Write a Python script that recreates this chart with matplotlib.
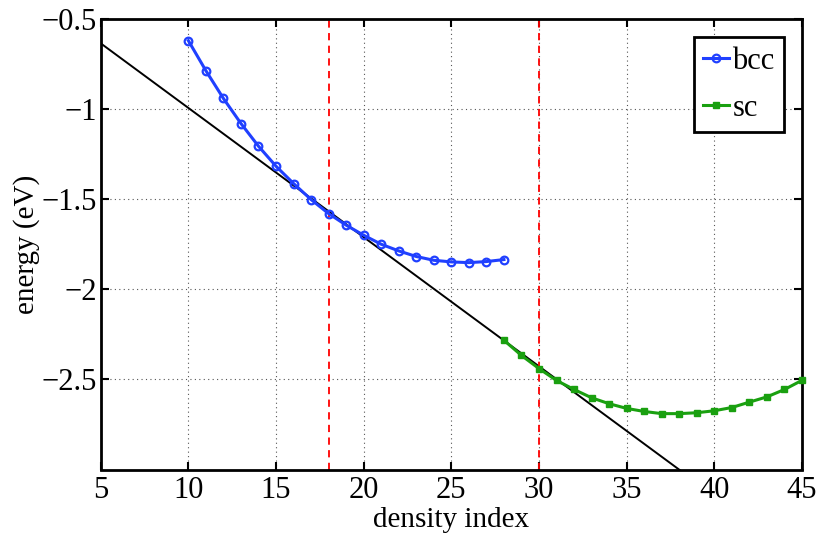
import matplotlib
matplotlib.use("Agg")
import matplotlib.pyplot as plt

plt.rcParams['font.family'] = ['Liberation Serif', 'DejaVu Serif']

bcc_x = [10, 11, 12, 13, 14, 15, 16, 17, 18, 19, 20, 21, 22, 23, 24, 25, 26, 27, 28]
bcc_y = [-0.62, -0.787, -0.941, -1.080, -1.206, -1.317, -1.413, -1.502, -1.58,
         -1.644, -1.70, -1.75, -1.787, -1.818, -1.839, -1.848, -1.852, -1.846, -1.835]
sc_x = [28, 29, 30, 31, 32, 33, 34, 35, 36, 37, 38, 39, 40, 41, 42, 43, 44, 45]
sc_y = [-2.283, -2.367, -2.44, -2.506, -2.556, -2.602, -2.635, -2.661, -2.678,
        -2.69, -2.69, -2.685, -2.674, -2.656, -2.626, -2.597, -2.556, -2.505]
tangent_x = [5, 45]
tangent_y = [-0.635, -3.503]
vlines_x = [18, 30]
xticks = [5, 10, 15, 20, 25, 30, 35, 40, 45]
yticks = [-2.5, -2, -1.5, -1, -0.5]
ytick_labels = ['\u22122.5', '\u22122', '\u22121.5', '\u22121', '\u22120.5']

fig = plt.figure(figsize=(8.30, 5.59), dpi=100)
ax = fig.add_axes([100.7/830, 1 - 469.5/559, (802 - 100.7)/830, (469.5 - 19)/559])

ax.plot(tangent_x, tangent_y, color='black', lw=1.4, zorder=2)
for xv in vlines_x:
    ax.axvline(xv, color='#ff0000', lw=1.3, ls=(0, (4, 3)), zorder=2)
ax.plot(bcc_x, bcc_y, color='#2040ff', lw=2.2, marker='o', ms=5.5,
        mfc='none', mec='#2040ff', mew=1.6, label='bcc', zorder=3)
ax.plot(sc_x, sc_y, color='#1aa010', lw=2.2, marker='s', ms=5,
        mfc='#1aa010', mec='#1aa010', label='sc', zorder=3, clip_on=False)

ax.set_xlim(5, 45)
ax.set_ylim(-3, -0.5)
ax.set_xticks(xticks)
ax.set_yticks(yticks)
ax.set_yticklabels(ytick_labels)
ax.grid(True, color='#555555', ls=(0, (1, 3)), lw=0.8)
ax.tick_params(direction='in', length=6, width=1.5, labelsize=22,
               top=True, right=True)
ax.tick_params(axis='x', pad=5)
ax.tick_params(axis='y', pad=3)
for s in ax.spines.values():
    s.set_linewidth(2.0)

ax.set_xlabel('density index', fontsize=21, labelpad=1)
ax.set_ylabel('energy (eV)', fontsize=21, labelpad=1)

leg = ax.legend(loc='upper right', fontsize=22, frameon=True, fancybox=False,
                framealpha=1, edgecolor='black', handlelength=0.85,
                handletextpad=0.1, borderpad=0.3, labelspacing=0.6,
                borderaxespad=0.6)
leg.get_frame().set_linewidth(2.0)

fig.savefig('out.png', dpi=100)
